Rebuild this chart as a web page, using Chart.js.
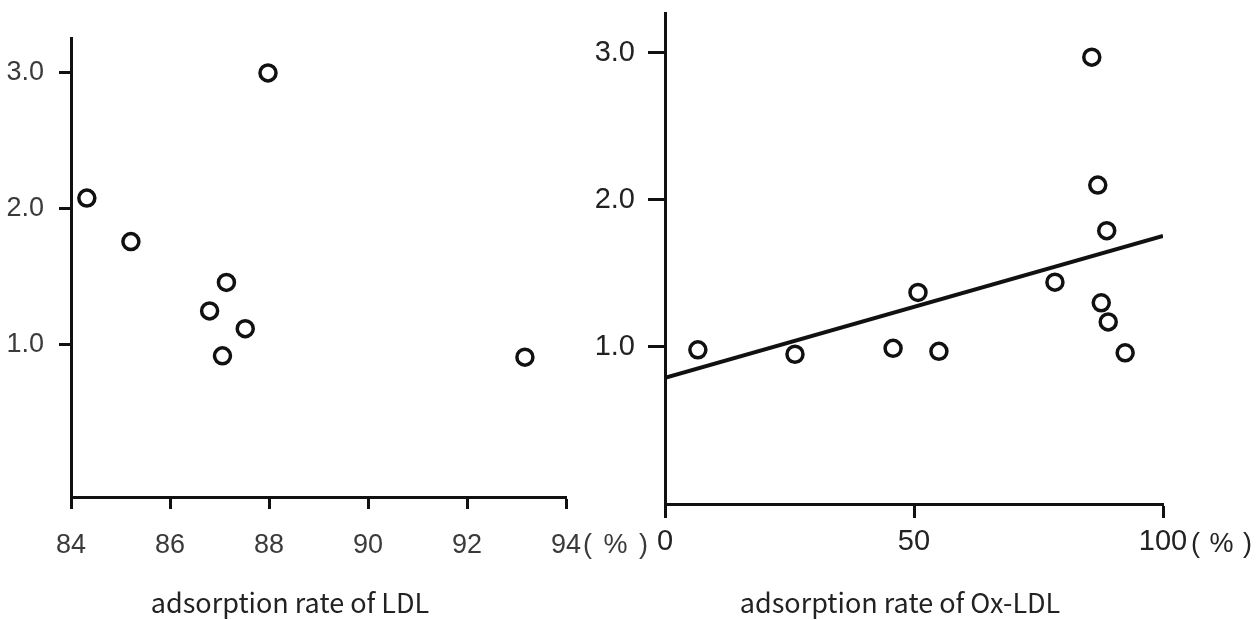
<!DOCTYPE html>
<html><head><meta charset="utf-8">
<script src="https://cdn.jsdelivr.net/npm/chart.js@4.4.1/dist/chart.umd.min.js"></script>
<style>
html,body{margin:0;padding:0;background:#fff;}
#wrap{position:relative;width:1257px;height:620px;background:#fff;overflow:hidden;}
#c1{position:absolute;left:0;top:0;}
#c2{position:absolute;left:570px;top:0;}
</style></head><body>
<div id="wrap"><canvas id="c1" width="660" height="620"></canvas><canvas id="c2" width="687" height="620"></canvas></div>
<script>
// ---- data ----
const ldlX = [84.32, 85.21, 87.98, 87.14, 86.80, 87.52, 87.06, 93.17];
const ldlY = [2.08, 1.76, 3.00, 1.46, 1.25, 1.12, 0.92, 0.91];
const oxX = [6.6, 26.1, 45.8, 50.8, 55.0, 78.3, 85.7, 86.9, 88.7, 87.6, 89.0, 92.4];
const oxY = [0.98, 0.95, 0.99, 1.37, 0.97, 1.44, 2.97, 2.10, 1.79, 1.30, 1.17, 0.96];
const fitX = [0, 100];
const fitY = [0.79, 1.755];
const yTickValues = [1, 2, 3];
const ldlTickValues = [84, 86, 88, 90, 92, 94];
const oxTickValues = [0, 50, 100];
const ldlTitle = 'adsorption rate of LDL';
const oxTitle = 'adsorption rate of Ox-LDL';
const unitLabel = '( % )';

const toPts = (xs, ys) => xs.map((x, i) => ({x: x, y: ys[i]}));

const captionPlugin = {
  id: 'caption',
  afterDraw(chart, args, o) {
    const ctx = chart.ctx;
    ctx.save();
    ctx.fillStyle = o.color;
    ctx.font = o.font;
    ctx.textAlign = 'center';
    ctx.textBaseline = 'middle';
    ctx.fillText(o.text, o.x, o.y);
    const xs = chart.scales.x;
    const last = xs.ticks[xs.ticks.length - 1].value;
    ctx.font = o.unitFont;
    ctx.textAlign = 'left';
    ctx.fillStyle = o.unitColor;
    if ('letterSpacing' in ctx) ctx.letterSpacing = o.unitSpacing;
    ctx.fillText(o.unit, xs.getPixelForValue(last) + o.unitDx, o.unitY);
    ctx.restore();
  }
};

function axisCommon(tickLen, font, color, pad) {
  return {
    border: {display: true, color: '#111', width: 3},
    grid: {drawOnChartArea: false, drawTicks: true, tickLength: tickLen, tickWidth: 3, tickColor: '#111'},
    ticks: {font: font, color: color, padding: pad, autoSkip: false, maxRotation: 0}
  };
}

const pointStyle = {
  pointStyle: 'circle', pointRadius: 8, pointBorderWidth: 3.5,
  pointBackgroundColor: '#fff', pointBorderColor: '#111'
};

function fixX(h) { return s => { s.height = h; s.paddingLeft = 0; s.paddingRight = 0; }; }
function fixY(w) { return s => { s.width = w; s.paddingTop = 0; s.paddingBottom = 0; }; }

// ---- left chart ----
const leftFont = {family: "'Liberation Sans',Arial,sans-serif", size: 27};
const lx = axisCommon(12, leftFont, '#3a3a3a', 20);
lx.type = 'linear'; lx.min = 84; lx.max = 94;
lx.afterBuildTicks = s => { s.ticks = ldlTickValues.map(v => ({value: v})); };
lx.afterFit = fixX(123);
lx.ticks.callback = v => String(v);
const ly = axisCommon(12, leftFont, '#3a3a3a', 15);
ly.type = 'linear'; ly.min = -0.118; ly.max = 3.257;
ly.afterBuildTicks = s => { s.ticks = yTickValues.map(v => ({value: v})); };
ly.afterFit = fixY(71);
ly.ticks.callback = v => Number(v).toFixed(1);

new Chart(document.getElementById('c1'), {
  type: 'scatter',
  data: {datasets: [Object.assign({data: toPts(ldlX, ldlY)}, pointStyle)]},
  options: {
    responsive: false, animation: false, devicePixelRatio: 1,
    layout: {padding: {left: 0, top: 38, right: 94, bottom: 0}},
    plugins: {legend: {display: false}, tooltip: {enabled: false},
      caption: {text: ldlTitle, x: 290, y: 603, color: '#222',
        font: "27px 'Noto Sans CJK JP','Liberation Sans',sans-serif",
        unit: unitLabel, unitFont: "27px 'Liberation Sans',sans-serif", unitColor: '#3a3a3a',
        unitSpacing: '2px', unitDx: 17, unitY: 546}},
    scales: {x: lx, y: ly}
  },
  plugins: [captionPlugin]
});

// ---- right chart ----
const rightFont = {family: "'Liberation Sans',Arial,sans-serif", size: 29};
const rx = axisCommon(14, rightFont, '#222', 7);
rx.type = 'linear'; rx.min = 0; rx.max = 100;
rx.afterBuildTicks = s => { s.ticks = oxTickValues.map(v => ({value: v})); };
rx.afterFit = fixX(116);
rx.ticks.callback = v => String(v);
const ry = axisCommon(17, rightFont, '#222', 13);
ry.type = 'linear'; ry.min = -0.068; ry.max = 3.27;
ry.afterBuildTicks = s => { s.ticks = yTickValues.map(v => ({value: v})); };
ry.afterFit = fixY(95);
ry.ticks.callback = v => Number(v).toFixed(1);

new Chart(document.getElementById('c2'), {
  type: 'scatter',
  data: {datasets: [
    Object.assign({data: toPts(oxX, oxY), order: 1}, pointStyle),
    {type: 'line', data: toPts(fitX, fitY), borderColor: '#111', borderWidth: 4,
     pointRadius: 0, fill: false, order: 2}
  ]},
  options: {
    responsive: false, animation: false, devicePixelRatio: 1,
    layout: {padding: {left: 0, top: 13, right: 94, bottom: 0}},
    plugins: {legend: {display: false}, tooltip: {enabled: false},
      caption: {text: oxTitle, x: 330, y: 603, color: '#222',
        font: "27px 'Noto Sans CJK JP','Liberation Sans',sans-serif",
        unit: unitLabel, unitFont: "27px 'Liberation Sans',sans-serif", unitColor: '#222',
        unitSpacing: '1px', unitDx: 28, unitY: 545}},
    scales: {x: rx, y: ry}
  },
  plugins: [captionPlugin]
});
</script>
</body></html>
